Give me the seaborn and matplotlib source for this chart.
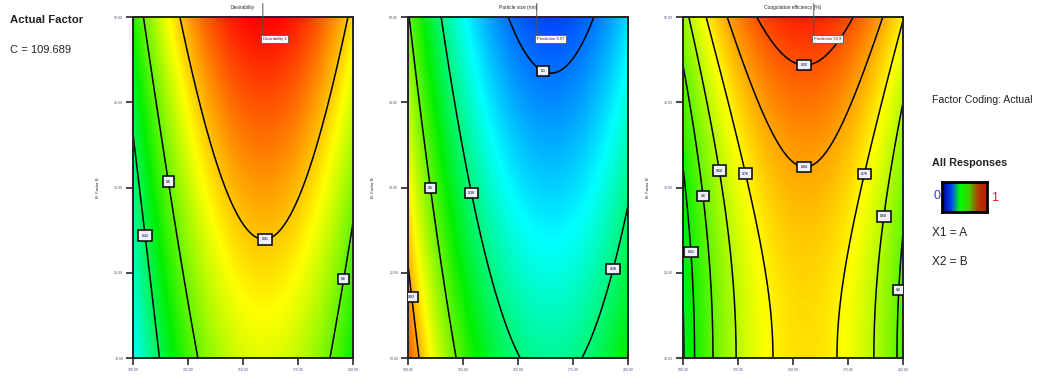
import numpy as np
import matplotlib
matplotlib.use("Agg")
import matplotlib.pyplot as plt
import seaborn as sns

# factor axes (actual units)
a_ticks = [100.0, 125.0, 150.0, 175.0, 200.0]
b_ticks = [10.0, 20.0, 30.0, 40.0, 50.0]
a_name = "A: Factor A"
b_name = "B: Factor B"

titles = ["Desirability", "Particle size (nm)", "Coagulation efficiency (%)"]
flag_text = ["Desirability 1", "Prediction 9.97", "Prediction 93.9"]
flag_a = [159.0, 158.5, 159.5]

# fitted response models in coded units (u = A, v = B scaled to 0..1)
# f = c0 + c1*v + c2*v^2 + c3*v^3 - k*(u - u0)^2
c0 = [0.72, 0.354, 0.78]
c1 = [0.226, -0.304, 0.0]
c2 = [0.053, 0.0, 0.181]
c3 = [0.0, 0.0, 0.007]
k_a = [1.33, -1.322, 1.04]
u0 = [0.595, 0.65, 0.555]

levels = [
    [0.25, 0.42, 0.60, 0.805],
    [0.10, 0.38, 0.60, 0.83],
    [0.465, 0.518, 0.598, 0.678, 0.758, 0.838, 0.918],
]
# where the contour value boxes sit (A, B)
label_at = [
    [(160.0, 24.2), (119.0, 30.8), (107.0, 24.4), (197.0, 19.2)],
    [(162.0, 44.0), (133.0, 29.6), (194.0, 20.4), (111.0, 30.0), (103.0, 17.2)],
    [(155.0, 44.0), (155.0, 32.4), (116.8, 32.0), (128.0, 31.6), (109.5, 29.0),
     (103.0, 22.4), (182.7, 31.6), (191.4, 26.6), (198.6, 18.0)],
]

sns.set_style("ticks")
plt.rcParams["font.family"] = ["Liberation Sans", "DejaVu Sans"]

cmap = sns.blend_palette(["#0018ff", "#00ffff", "#00f000", "#ffff00", "#ff0000"], as_cmap=True)

fig = plt.figure(figsize=(10.41, 3.78), dpi=100)
lefts = [0.1278, 0.392, 0.656]

A = np.linspace(a_ticks[0], a_ticks[-1], 300)
B = np.linspace(b_ticks[0], b_ticks[-1], 300)
AA, BB = np.meshgrid(A, B)
U = (AA - a_ticks[0]) / (a_ticks[-1] - a_ticks[0])
V = (BB - b_ticks[0]) / (b_ticks[-1] - b_ticks[0])

for i in range(3):
    ax = fig.add_axes([lefts[i], 0.0529, 0.2113, 0.902])
    Z = c0[i] + c1[i] * V + c2[i] * V ** 2 + c3[i] * V ** 3 - k_a[i] * (U - u0[i]) ** 2
    ax.imshow(Z, extent=[A[0], A[-1], B[0], B[-1]], origin="lower", cmap=cmap,
              vmin=0, vmax=1, aspect="auto", interpolation="bilinear")
    cs = ax.contour(AA, BB, Z, levels=levels[i], colors="black", linewidths=1.1)
    lbls = ax.clabel(cs, manual=label_at[i], inline=False, fontsize=2.6, fmt="%.2g")
    for t in lbls:
        t.set_rotation(0)
        t.set_bbox(dict(boxstyle="square,pad=0.9", fc="#eef0ff", ec="black", lw=1.1))
    ax.set_xlim(a_ticks[0], a_ticks[-1])
    ax.set_ylim(b_ticks[0], b_ticks[-1])
    ax.set_xticks(a_ticks)
    ax.set_yticks(b_ticks)
    ax.set_xticklabels([f"{t:.2f}" for t in a_ticks])
    ax.set_yticklabels([f"{t:.2f}" for t in b_ticks])
    ax.tick_params(direction="out", length=5, width=1.2, labelsize=2.5, pad=2,
                   labelcolor="#555577")
    for s in ax.spines.values():
        s.set_linewidth(1.4)
        s.set_color("#222222")
    ax.set_ylabel(b_name, fontsize=3, labelpad=10)
    ax.set_title(titles[i], fontsize=3.5, pad=6)
    ax.annotate(flag_text[i], xy=(flag_a[i], 1.04), xycoords=("data", "axes fraction"),
                xytext=(flag_a[i], 0.935), textcoords=("data", "axes fraction"),
                fontsize=3, ha="left", va="center", annotation_clip=False,
                arrowprops=dict(arrowstyle="-", lw=0.7, color="#555555",
                                shrinkA=0, shrinkB=0, relpos=(0, 0.5)),
                bbox=dict(boxstyle="square,pad=0.45", fc="white", ec="#666666", lw=0.8))

# side texts
fig.text(10 / 1041, 1 - 20 / 378, "Actual Factor", fontsize=8.2, fontweight="bold",
         va="center", color="#222222")
fig.text(10 / 1041, 1 - 50 / 378, "C = 109.689", fontsize=8, va="center", color="#222222")
fig.text(932 / 1041, 1 - 100 / 378, "Factor Coding: Actual", fontsize=7.6, va="center",
         color="#222222")
fig.text(932 / 1041, 1 - 163 / 378, "All Responses", fontsize=7.8, fontweight="bold",
         va="center", color="#222222")
fig.text(933 / 1041, 1 - 196 / 378, "0", fontsize=9, va="center", color="#3333ff")
fig.text(991 / 1041, 1 - 198 / 378, "1", fontsize=9, va="center", color="#ee1133")
fig.text(932 / 1041, 1 - 233 / 378, "X1 = A", fontsize=8.5, va="center", color="#222222")
fig.text(932 / 1041, 1 - 262 / 378, "X2 = B", fontsize=8.5, va="center", color="#222222")

key_cmap = sns.blend_palette(["#000080", "#0040ff", "#00ff00", "#40d000", "#b04000", "#c01800"],
                             as_cmap=True)
kax = fig.add_axes([942 / 1041, 1 - 212 / 378, 45 / 1041, 30 / 378])
kax.imshow(np.linspace(0, 1, 100)[None, :], cmap=key_cmap, aspect="auto")
kax.set_xticks([])
kax.set_yticks([])
for s in kax.spines.values():
    s.set_linewidth(2)
    s.set_color("black")

fig.savefig("out.png", dpi=100)
